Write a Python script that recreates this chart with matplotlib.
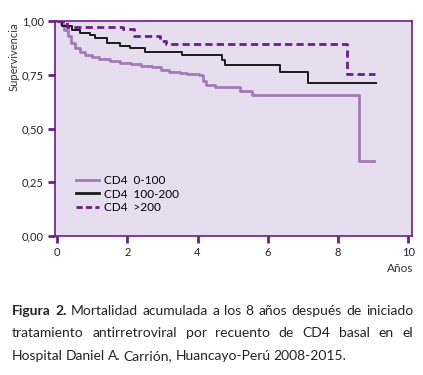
import matplotlib
matplotlib.use("Agg")
import matplotlib.pyplot as plt
from matplotlib.lines import Line2D

# Kaplan-Meier steps
t_low = [0, 0.1, 0.2, 0.3, 0.4, 0.5, 0.65, 0.8, 1.0, 1.2, 1.5, 1.8, 2.1, 2.4, 2.7,
         2.95, 3.2, 3.5, 3.7, 4.05, 4.15, 4.25, 4.5, 5.2, 5.55, 8.61, 9.02]
s_low = [1.0, 0.985, 0.96, 0.93, 0.90, 0.875, 0.855, 0.842, 0.832, 0.824, 0.814,
         0.806, 0.798, 0.792, 0.784, 0.772, 0.764, 0.757, 0.752, 0.748, 0.72,
         0.702, 0.692, 0.676, 0.656, 0.349, 0.349]
t_mid = [0, 0.13, 0.42, 0.66, 0.94, 1.08, 1.42, 1.8, 2.08, 2.5, 3.55, 4.69, 4.79,
         6.36, 7.15, 9.08]
s_mid = [1.0, 0.977, 0.96, 0.946, 0.935, 0.92, 0.897, 0.885, 0.876, 0.855, 0.84,
         0.82, 0.795, 0.763, 0.71, 0.71]
t_high = [0, 0.28, 1.88, 2.2, 2.93, 3.1, 8.25, 9.06]
s_high = [1.0, 0.973, 0.961, 0.93, 0.909, 0.895, 0.753, 0.753]

series_labels = ["CD4  0-100", "CD4  100-200", "CD4  >200"]
x_ticks = [0, 2, 4, 6, 8, 10]
y_ticks = [0, 0.25, 0.5, 0.75, 1.0]
y_ticklabels = ["0,00", "0,25", "0,50", "0,75", "1,00"]

caption_lines = [
    "Mortalidad acumulada a los 8 años después de iniciado",
    "tratamiento antirretroviral por recuento de CD4 basal en el",
    "Hospital Daniel A. Carrión, Huancayo-Perú 2008-2015.",
]

PURPLE = "#6d1f86"
LIGHT = "#a47ab8"
BG = "#e6ddef"
FONT = "Lato"

plt.rcParams["font.family"] = [FONT, "DejaVu Sans"]

fig = plt.figure(figsize=(4.23, 3.75), dpi=100)
ax = fig.add_axes([55 / 423, 1 - 236 / 375, 357 / 423, 215 / 375])
ax.set_facecolor(BG)

ax.plot(t_low, s_low, drawstyle="steps-post", color=LIGHT, lw=2.0)
ax.plot(t_mid, s_mid, drawstyle="steps-post", color="#1a1a1a", lw=1.4)
ax.plot(t_high, s_high, drawstyle="steps-post", color=PURPLE, lw=2.0,
        dashes=(2.6, 1.5))

ax.set_xlim(-0.06, 10.11)
ax.set_ylim(0, 1.0)
ax.set_xticks(x_ticks)
ax.set_yticks(y_ticks)
ax.set_yticklabels(y_ticklabels)
for sp in ax.spines.values():
    sp.set_color(PURPLE)
    sp.set_linewidth(1.2)
ax.tick_params(color=PURPLE, width=2, length=5, direction="out",
               labelsize=8, labelcolor="#222222", pad=3)

ax.set_ylabel("Supervivencia", fontsize=8, color="#333333")
ax.yaxis.set_label_coords(-0.1, 0.835)
fig.text(413 / 423, 1 - 268 / 375, "Años", ha="right", va="center",
         fontsize=8.5, color="#333333")

handles = [
    Line2D([], [], color=LIGHT, lw=2.0),
    Line2D([], [], color="#1a1a1a", lw=2.0),
    Line2D([], [], color=PURPLE, lw=2.0, dashes=(2.2, 1.2)),
]
ax.legend(handles, series_labels, loc="upper left", bbox_to_anchor=(0.045, 0.305),
          frameon=False, fontsize=8.5, handlelength=2.0, handletextpad=0.4,
          labelspacing=0.2, borderaxespad=0)

# caption, first two lines justified
fig.canvas.draw()
renderer = fig.canvas.get_renderer()
W = 423.0
H = 375.0
left_px, right_px = 12.0, 413.0
line_y = [315, 337, 360]
fs = 10.0


def width_px(txt, weight="normal"):
    t = fig.text(0, 0, txt, fontsize=fs, fontweight=weight)
    w = t.get_window_extent(renderer).width
    t.remove()
    return w


for i, line in enumerate(caption_lines):
    words = line.split(" ")
    pieces = [(w, "normal") for w in words]
    if i == 0:
        pieces = [("Figura", "bold"), ("2.", "bold")] + pieces
    widths = [width_px(p, wt) for p, wt in pieces]
    if i < 2:
        gap = (right_px - left_px - sum(widths)) / (len(pieces) - 1)
    else:
        gap = 3.0
    x = left_px
    for (p, wt), w in zip(pieces, widths):
        fig.text(x / W, 1 - line_y[i] / H, p, fontsize=fs, fontweight=wt,
                 ha="left", va="baseline", color="#222222")
        x += w + gap

fig.savefig("out.png", dpi=100)
